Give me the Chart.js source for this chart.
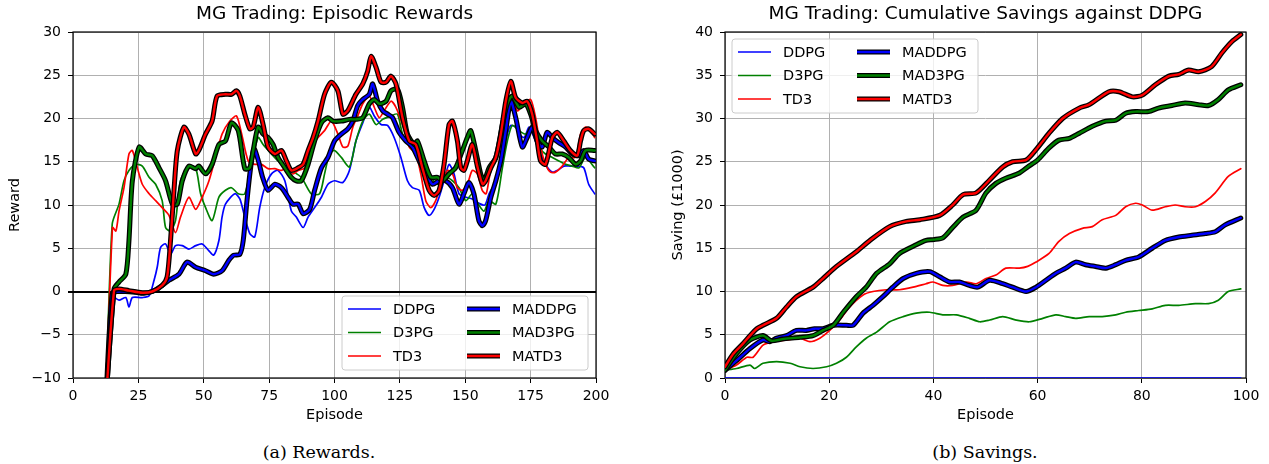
<!DOCTYPE html>
<html>
<head>
<meta charset="utf-8">
<title>MG Trading</title>
<script src="https://cdn.jsdelivr.net/npm/chart.js@4.4.1/dist/chart.umd.min.js"></script>
<style>
  html, body { margin: 0; padding: 0; background: #ffffff; }
  body { position: relative; width: 1269px; height: 464px; overflow: hidden; }
  canvas { position: absolute; top: 0; }
  #RewardChart { left: 0; width: 630px; height: 430px; }
  #SavingChart { left: 640px; width: 629px; height: 430px; }
  .caption {
    position: absolute; top: 442px; line-height: 20px;
    font-family: "DejaVu Serif", serif; font-size: 17.5px; color: #000;
    transform: translateX(-50%); white-space: nowrap;
  }
</style>
</head>
<body>
<canvas id="RewardChart" width="630" height="430"></canvas>
<canvas id="SavingChart" width="629" height="430"></canvas>
<div class="caption" style="left: 319px">(a) Rewards.</div>
<div class="caption" style="left: 985px">(b) Savings.</div>
<script>
const seriesNames = ["DDPG", "D3PG", "TD3", "MADDPG", "MAD3PG", "MATD3"];
const seriesColors = ["#0000ff", "#008000", "#ff0000", "#0000ff", "#008000", "#ff0000"];
const multiAgent = [false, false, false, true, true, true];

// episodic rewards, [episode, reward]
const ddpgReward = [[12.5,-13],[15,-0.6],[17.6,-1],[20.2,-0.7],[21.4,-1.8],[22.7,-0.7],[26.5,-0.7],[29.1,-0.5],[31,1.3],[32.2,2.8],[33.5,5.1],[35.4,5.5],[37.3,4.3],[39.2,5.3],[41.8,5.3],[44.3,4.9],[46.9,5.3],[49.4,5.5],[52,4.7],[53.8,4.2],[55.8,5.9],[57,8.6],[58.3,10.1],[61.9,11.3],[63.8,10.7],[65.7,8.6],[67.6,6.7],[69.5,6.3],[71.4,9.7],[73.3,12],[75.9,13.6],[78.4,14],[81,12.8],[83.5,9.3],[85.4,8.6],[88,7.4],[89.9,8.6],[92.4,9.7],[95,10.9],[97.5,12.4],[100,12.8],[103.2,12.6],[105.7,14],[108.2,17.4],[110.8,19.5],[113.3,21.3],[115.2,20.3],[117.8,19.3],[120.3,19.2],[122.8,17.8],[125.4,15.5],[127.9,12.8],[129.8,12],[132.4,11.7],[134.3,9.7],[136.2,8.8],[138.1,9.5],[140,10.9],[141.9,12.8],[143.8,14.7],[145.7,13.6],[147.6,11.3],[150.2,10.9],[152.7,10.7],[155.2,10.2],[157.5,10],[159.1,11.3],[161.7,12.8],[164.2,15.5],[166.1,18.2],[167.4,19.2],[169.3,19],[170.6,18.2],[172.5,17.8],[174.4,19],[176.3,17.8],[178.2,16.3],[180.7,14.7],[183.3,13.8],[185.2,14],[187.7,14.5],[190.2,14.5],[192.8,14.5],[195.3,14.3],[197.2,12.4],[199.5,11.3]];
const d3pgReward = [[12.5,-13],[15,7.8],[17.6,10.1],[19.5,12.8],[21.4,14],[24,14.7],[26.5,14.5],[29.1,13.2],[31.6,12.4],[34.1,10.5],[35.4,7.4],[37.3,7],[39.2,8.2],[41.1,12.8],[44.3,14.5],[46.9,14.3],[48.8,11.3],[50.7,9.7],[53.2,8.2],[55.8,10.9],[58.3,11.7],[60.6,12],[63.2,11.3],[65.7,11.3],[68.3,14.7],[70.8,17.8],[72.7,17],[75.9,15.9],[78.4,15.1],[81,14.5],[83.5,14],[87.3,13.2],[91.1,11.3],[94.3,11.3],[96.2,13.6],[98.1,15.9],[100,16.3],[102.6,15.5],[105.7,14.4],[108.2,17.4],[110.8,19.7],[113.3,20.5],[115.9,19.3],[118.4,19.9],[121.6,20.3],[124.1,20.5],[126,18.2],[128.6,17],[131.1,16.3],[133.6,14.3],[136.8,13.2],[139.4,12.4],[142.5,13.2],[145.1,12.8],[147.6,12],[150.2,10.5],[152.7,11.3],[155.2,10],[157.2,9.3],[159.1,10.5],[161.7,10.1],[164.2,14.3],[166.1,17.4],[168,19.2],[170.6,18.6],[173.1,18.2],[175.6,19],[178.2,16.7],[180.7,15.9],[183.3,15.5],[185.8,15.1],[188.4,14.7],[190.9,14.5],[193.5,14.3],[196,15.5],[199.5,14.3]];
const td3Reward = [[12.5,-13],[15.1,7.4],[16.4,7],[17.6,9.3],[19.5,12],[21.4,15.9],[22.7,16.3],[24.6,14.3],[26.5,12.4],[29.1,11.3],[31.6,10.5],[34.1,9.7],[36.7,8.8],[39.2,6.8],[41.1,8.6],[44.3,10.9],[46.9,9.5],[49.4,10.9],[52,12.8],[54.5,15.5],[57,18.2],[60,19.7],[62.5,20.3],[64.5,18.2],[67,15.1],[69.5,14.7],[72.1,14.7],[74.6,14.2],[77.2,14.2],[79.7,14],[82.2,14.3],[84.1,13.6],[86.1,14],[88.6,14.3],[91.1,16.7],[93.7,17.8],[96.2,18.6],[98.8,19.7],[101.3,18.2],[103.2,16.7],[105.1,16.8],[107,19],[108.9,20.3],[110.8,21.7],[113.3,22.6],[115.2,21.3],[117.1,20.1],[119,20.9],[121.6,22],[123.5,21.3],[126,19.3],[128.6,16.7],[131.1,15.9],[133,13.6],[134.9,10.5],[136.8,9.7],[138.7,10.5],[140.7,12.4],[143.2,14],[145.1,13.6],[147,12],[148.9,11.7],[150.8,12.4],[152.7,14],[154.6,13.6],[156.5,11.7],[158,11.3],[159.5,13.6],[161.7,15.5],[164.2,19],[166.1,21.3],[168,22.8],[169.9,20.9],[172.5,21.7],[175,22.2],[176.9,20.1],[178.8,16.7],[180.7,14.7],[182.6,13.8],[184.5,13.8],[187.1,14.5],[189.6,15.5],[192.2,15.5],[194.1,18.2],[196,19],[197.9,18.6],[199.5,17.8]];
const maddpgReward = [[12.5,-13],[15,-0.2],[17.6,0],[20,0],[24,-0.1],[27,-0.2],[30.3,0],[34.1,0.7],[36.7,1.3],[40.5,2],[43.6,3.4],[46.9,2.8],[50.7,2.4],[53.8,2],[57,2.4],[59.6,3.6],[61.5,4.2],[63.8,4.3],[65.1,5.9],[66.4,10.1],[67.8,14],[69.2,16.5],[71,15],[72.5,13.2],[74.6,11.7],[77.2,12.4],[79.7,12],[82.2,10.9],[84.1,10.1],[86.1,10.1],[88,9],[90.5,9.5],[92.4,11.7],[95,14.3],[97.5,15.5],[100,17.4],[102.6,18.2],[105.1,18.8],[107,19.7],[108.9,21.5],[110.8,22.2],[113.3,22.8],[114.6,24],[116.5,22],[118.4,20.9],[120.3,20.5],[122.2,20.1],[124.7,18.4],[127.3,17.4],[129.8,16.7],[132.4,15.1],[134.9,13.6],[137.5,12.4],[140,12.8],[142.5,12.8],[145.1,12],[147.6,10.1],[149.5,11.3],[151.4,12.6],[153.3,11.3],[155.2,8.2],[156.6,7.6],[157.8,8.2],[159.8,10.9],[161.7,12.8],[163.6,15.1],[165.5,18.6],[167.4,22],[169.3,20.1],[171.8,16.7],[173.7,17.8],[175.6,19],[177.5,17.4],[179.4,16.7],[181.3,18.4],[183.3,17.8],[185.8,17.2],[188.4,16.7],[190.9,15.9],[193.5,15.7],[195.3,16.3],[197.2,15.3],[199.5,15.1]];
const mad3pgReward = [[12.5,-13],[15.7,0.3],[17.6,1.1],[20.2,2],[21.4,5.9],[22.7,12.8],[25.3,16.7],[27.8,15.9],[30.3,15.7],[32.9,14.3],[35.4,12.8],[38,10.1],[39.9,10.1],[41.8,12.8],[44.3,14.5],[46.9,14.2],[48.1,14.5],[50.7,13.6],[53.2,14.7],[55.8,17],[58.3,17.4],[60.6,19.5],[63.2,18.6],[65.7,14.2],[67.6,14.3],[68.9,16.3],[70.8,19],[72.7,18.2],[74.6,17.8],[76.5,17],[78.4,15.5],[81,14.3],[83.5,13.2],[85.4,12.8],[87.3,12.8],[89.9,14.7],[92.4,17.4],[95,19.5],[97.5,20.1],[99.4,19.7],[102.6,19.7],[105.7,19.9],[108.2,19.9],[110.8,20.1],[113.3,21.7],[115.2,22.2],[117.1,21.7],[119.7,22],[121.6,23.2],[124.1,23.4],[126,21.3],[127.9,18.2],[130.5,17],[131.7,17.4],[134.3,15.1],[136.8,13.2],[139.4,13.2],[141.3,12.8],[143.8,13.6],[146.3,14.3],[148.9,16.3],[150.8,17.8],[152.1,18.6],[154,16.3],[155.9,13.6],[157.2,12.8],[159.1,14.3],[161.7,15.5],[164.2,19.3],[166.1,21.7],[168,22.6],[170.6,21.3],[173.1,21.7],[175,20.5],[176.9,18.6],[179.4,17.4],[182,16.7],[184.5,15.9],[187.1,15.9],[189.6,15.5],[192.2,14.7],[194.1,15.1],[196,16.3],[199.5,16.3]];
const matd3Reward = [[12.5,-13],[15.7,0.1],[17.6,0.3],[21.4,0.1],[26.5,-0.15],[30.3,0],[34.1,0.7],[36,1.7],[37.3,5.9],[38.6,11.6],[39.9,16.3],[42.4,19],[44.3,18.2],[46.9,15.9],[48.1,16.3],[50.7,18.2],[53.2,19.7],[55.1,22.6],[58.3,22.8],[60.6,22.8],[62.5,23.2],[63.8,22.6],[65.7,20.5],[67.6,18.8],[68.9,19],[70.8,21.3],[72.7,19.3],[74.6,16.7],[77.2,15.9],[79.7,16.3],[81.6,15.1],[83.5,14],[86.1,14.3],[88,14.7],[89.9,16.3],[91.8,17.8],[93.7,19.7],[96.2,22.8],[98.8,24.2],[101.3,23.2],[103.2,20.5],[105.1,20.9],[108.2,22.8],[110.8,24],[112.7,25.5],[114,27.2],[115.9,25.9],[117.8,24.2],[119.7,24.2],[121.6,24.9],[123.5,24],[126,20.1],[128.6,17.4],[131.1,17],[133.6,14.3],[136.2,11.7],[138.1,11.1],[140,11.7],[141.9,14.7],[143.8,19.3],[145.1,19.7],[147,17.4],[148.3,14.3],[149.5,14],[150.8,15.1],[152.7,17],[154.6,14.5],[156.6,12.4],[157.8,12.8],[159.8,14.3],[161.7,15.5],[163.6,18.2],[165.5,22],[167.4,24.3],[169.3,22.4],[171.8,21.8],[173.7,22],[175.6,20.5],[177.5,17.4],[178.8,15.1],[180.7,14.7],[183.3,17.8],[185.2,18.4],[187.7,17.4],[190.2,16.3],[192.8,15.7],[194.1,17.4],[195.3,18.6],[197.2,18.8],[199.5,18.2]];

// cumulative savings against DDPG, [episode, saving in £1000]
const ddpgSaving = [[0,0],[25,0],[50,0],[75,0],[99,0]];
const d3pgSaving = [[0,0.9],[2.2,1.1],[4.8,1.5],[5.7,1.1],[7.3,1.7],[9.9,1.9],[12.5,1.7],[14.4,1.3],[16.9,1.1],[19.5,1.3],[21.4,1.7],[23.3,2.4],[25.2,3.6],[27.1,4.6],[29.1,5.3],[31.6,6.5],[34.2,7.1],[36.7,7.5],[39.3,7.6],[41.8,7.3],[44.4,7.3],[46.9,6.9],[48.9,6.5],[50.8,6.7],[53.3,7.1],[55.9,6.7],[58.4,6.5],[61,6.9],[63.5,7.3],[65.4,7.1],[67.3,6.9],[69.9,7.1],[72.4,7.1],[75,7.3],[76.9,7.6],[79.4,7.8],[82,8],[84.5,8.4],[87.1,8.4],[90.3,8.6],[92.8,8.6],[94.7,9],[96.6,10],[99,10.3]];
const td3Saving = [[0,0.9],[2.2,1.5],[4.2,2.4],[5.4,2.4],[7.3,3.8],[9.3,4.2],[11.8,4.4],[14.4,4.6],[16.3,4.2],[18.2,4.6],[20.1,5.5],[22,6.7],[23.9,8.2],[26.5,9.6],[28.4,10],[31,10.2],[33.5,10.2],[36.1,10.5],[38.6,10.9],[39.9,11.1],[41.8,10.7],[43.7,10.7],[46.3,11.1],[48.2,10.9],[50.1,11.5],[52,11.9],[53.9,12.7],[56.5,12.7],[58.1,12.9],[59.7,13.4],[62.2,14.4],[64.1,15.8],[66.1,16.7],[68.6,17.3],[70.5,17.5],[72.4,18.3],[75,18.8],[76.9,19.8],[78.8,20.2],[80.1,20],[82,19.4],[84.5,19.8],[86.4,20],[88.3,19.8],[90.3,19.8],[92.2,20.4],[94.1,21.4],[96.6,23.3],[99,24.2]];
const maddpgSaving = [[0,0.9],[2.2,2],[4.8,3.4],[7.3,4.4],[8.6,4.2],[9.9,4.6],[11.8,4.9],[13.7,5.5],[15.6,5.5],[17.2,5.7],[18.8,5.7],[20.8,6.1],[23.3,6.1],[24.6,6.1],[26.5,7.5],[28.4,8.4],[30.3,9.4],[32.2,10.5],[34.2,11.5],[36.7,12.1],[39.3,12.3],[41.2,11.7],[43.1,11.1],[45,11.1],[46.9,10.7],[48.5,10.5],[50.8,11.3],[53.3,10.9],[55.2,10.5],[57.8,10],[59.7,10.5],[61.6,11.3],[63.5,12.1],[65.4,12.7],[67.3,13.4],[69.2,13.1],[71.1,12.9],[73.1,12.7],[75,13.1],[76.9,13.6],[79.4,14],[82,15],[84.5,15.9],[87.1,16.3],[89.6,16.5],[92.2,16.7],[94.1,16.9],[96,17.7],[99,18.5]];
const mad3pgSaving = [[0,0.9],[2.2,2.8],[4.8,4.4],[7.3,4.9],[8.9,4.3],[11,4.5],[14.4,4.7],[16.9,4.9],[18.8,5.5],[20.8,6.1],[22.7,7.6],[25.2,9.4],[27.1,10.5],[29.1,12.1],[31.6,13.2],[33.5,14.4],[36.7,15.4],[38.6,15.9],[40,16],[41.8,16.2],[43.7,17.4],[45.7,18.6],[48.2,19.4],[50.1,21.4],[52,22.5],[53.9,23.1],[56.5,23.7],[58.1,24.4],[60,25.2],[62.2,26.6],[64.1,27.5],[66.1,27.7],[68,28.3],[70.5,29.1],[73.1,29.7],[75,29.8],[76.9,30.6],[78.8,30.8],[81.3,30.8],[83.2,31.2],[85.8,31.5],[88.3,31.8],[90.9,31.6],[92.8,31.5],[94.7,32.2],[96.6,33.3],[99,33.9]];
const matd3Saving = [[0,1.3],[1.6,2.8],[3.5,4],[4.8,4.9],[6.1,5.7],[7.3,6.1],[9.9,6.9],[11.8,8.2],[13.7,9.4],[16.9,10.5],[18.8,11.5],[21.4,12.9],[25.2,14.6],[27.8,15.9],[31.6,17.5],[34.8,18.1],[37.4,18.3],[41.2,18.8],[43.7,20],[45.7,21.2],[48.2,21.4],[50.8,22.9],[53.3,24.4],[55.2,25],[57.8,25.2],[59.7,26.4],[62.2,28.3],[64.8,30],[68,31.2],[69.9,31.6],[73.7,33.1],[75.6,33.1],[78.2,32.5],[80.1,32.7],[82.6,33.9],[85.2,34.9],[87.1,35.1],[89,35.6],[90.9,35.4],[93.4,36],[95.4,37.6],[97.3,38.9],[99,39.7]];

const fontFamily = "DejaVu Sans";
const tickFont = { family: fontFamily, size: 14 };
const labelFont = { family: fontFamily, size: 14.5 };

function toPoints(pairs) {
  return pairs.map(function (p) {
    return { x: p[0], y: p[1] };
  });
}

// thick multi-agent lines get a black stroke drawn just under them
function buildDatasets(series) {
  const datasets = [];
  series.forEach(function (pairs, i) {
    const order = series.length - i;
    if (multiAgent[i]) {
      datasets.push({
        label: seriesNames[i] + " outline",
        data: toPoints(pairs),
        borderColor: "#000000",
        borderWidth: 5,
        order: order + 0.5,
      });
    }
    datasets.push({
      label: seriesNames[i],
      data: toPoints(pairs),
      borderColor: seriesColors[i],
      borderWidth: multiAgent[i] ? 2.4 : 1.7,
      order: order,
    });
  });
  return datasets;
}

const framePlugin = {
  id: "frame",
  beforeDatasetsDraw(chart) {
    const a = chart.chartArea;
    const ctx = chart.ctx;
    ctx.save();
    ctx.strokeStyle = "#000";
    ctx.lineWidth = 1.2;
    ctx.strokeRect(a.left, a.top, a.right - a.left, a.bottom - a.top);
    ctx.restore();
  },
};

const boxLegendPlugin = {
  id: "boxLegend",
  afterDatasetsDraw(chart, args, opts) {
    const ctx = chart.ctx;
    const area = chart.chartArea;
    const width = 246;
    const height = 74;
    const lower = opts.corner === "lowerRight";
    const left = lower ? area.right - 8 - width : area.left + 7;
    const top = lower ? area.bottom - 8 - height : area.top + 7;
    ctx.save();
    ctx.beginPath();
    ctx.roundRect(left, top, width, height, 3);
    ctx.fillStyle = "rgba(255, 255, 255, 0.8)";
    ctx.fill();
    ctx.strokeStyle = "#cccccc";
    ctx.lineWidth = 1;
    ctx.stroke();
    ctx.font = "14.5px 'DejaVu Sans'";
    ctx.textBaseline = "middle";
    seriesNames.forEach(function (name, i) {
      const x = left + 6 + Math.floor(i / 3) * 119;
      const y = top + 13 + (i % 3) * 23.5;
      if (multiAgent[i]) {
        ctx.strokeStyle = "#000";
        ctx.lineWidth = 5;
        ctx.beginPath();
        ctx.moveTo(x, y);
        ctx.lineTo(x + 33, y);
        ctx.stroke();
      }
      ctx.strokeStyle = seriesColors[i];
      ctx.lineWidth = multiAgent[i] ? 2.4 : 1.7;
      ctx.beginPath();
      ctx.moveTo(x, y);
      ctx.lineTo(x + 33, y);
      ctx.stroke();
      ctx.fillStyle = "#000";
      ctx.fillText(name, x + 45, y + 1);
    });
    ctx.restore();
  },
};

function chartOptions(cfg) {
  return {
    responsive: false,
    animation: false,
    events: [],
    layout: { padding: { left: 0, right: cfg.padRight, top: 0, bottom: 0 } },
    elements: {
      point: { radius: 0, hoverRadius: 0 },
      line: { tension: 0.25, borderJoinStyle: "round", borderCapStyle: "round", fill: false },
    },
    plugins: {
      legend: { display: false },
      tooltip: { enabled: false },
      title: {
        display: true,
        text: cfg.title,
        fullSize: false,
        color: "#000",
        font: { family: fontFamily, size: 18.5, weight: "normal" },
        padding: { top: 3, bottom: 6.8 },
      },
      boxLegend: { corner: cfg.legendCorner },
    },
    scales: {
      x: {
        type: "linear",
        min: 0,
        max: cfg.xMax,
        afterFit: function (scale) {
          scale.height = 52;
        },
        ticks: { stepSize: cfg.xStep, autoSkip: false, maxRotation: 0, padding: 5, color: "#000", font: tickFont },
        grid: { color: "#b0b0b0", lineWidth: 1, tickColor: "#000", tickLength: 5 },
        border: { display: false },
        title: { display: true, text: "Episode", color: "#000", font: labelFont, padding: { top: 0, bottom: 6.3 } },
      },
      y: {
        min: cfg.yMin,
        max: cfg.yMax,
        afterFit: function (scale) {
          scale.width = cfg.yWidth;
        },
        ticks: {
          stepSize: 5,
          padding: 7,
          color: "#000",
          font: tickFont,
          callback: function (value) {
            return String(value).replace("-", "\u2212");
          },
        },
        grid: {
          color: function (c) {
            return cfg.zeroLine && c.tick && c.tick.value === 0 ? "#000" : "#b0b0b0";
          },
          lineWidth: function (c) {
            return cfg.zeroLine && c.tick && c.tick.value === 0 ? 2 : 1;
          },
          tickColor: "#000",
          tickLength: 5,
        },
        border: { display: false },
        title: { display: true, text: cfg.yLabel, color: "#000", font: labelFont, padding: { top: cfg.yTitlePad, bottom: 0 } },
      },
    },
  };
}

let reward_chart_ctx = new Chart(document.getElementById("RewardChart"), {
  type: "line",
  data: {
    datasets: buildDatasets([ddpgReward, d3pgReward, td3Reward, maddpgReward, mad3pgReward, matd3Reward]),
  },
  options: chartOptions({
    title: "MG Trading: Episodic Rewards",
    xMax: 200,
    xStep: 25,
    yMin: -10,
    yMax: 30,
    yLabel: "Reward",
    yWidth: 73,
    yTitlePad: 6.3,
    padRight: 34,
    zeroLine: true,
    legendCorner: "lowerRight",
  }),
  plugins: [framePlugin, boxLegendPlugin],
});

let saving_chart_ctx = new Chart(document.getElementById("SavingChart"), {
  type: "line",
  data: {
    datasets: buildDatasets([ddpgSaving, d3pgSaving, td3Saving, maddpgSaving, mad3pgSaving, matd3Saving]),
  },
  options: chartOptions({
    title: "MG Trading: Cumulative Savings against DDPG",
    xMax: 100,
    xStep: 20,
    yMin: 0,
    yMax: 40,
    yLabel: "Saving (£1000)",
    yWidth: 85,
    yTitlePad: 29.3,
    padRight: 23,
    zeroLine: false,
    legendCorner: "upperLeft",
  }),
  plugins: [framePlugin, boxLegendPlugin],
});
</script>
</body>
</html>
